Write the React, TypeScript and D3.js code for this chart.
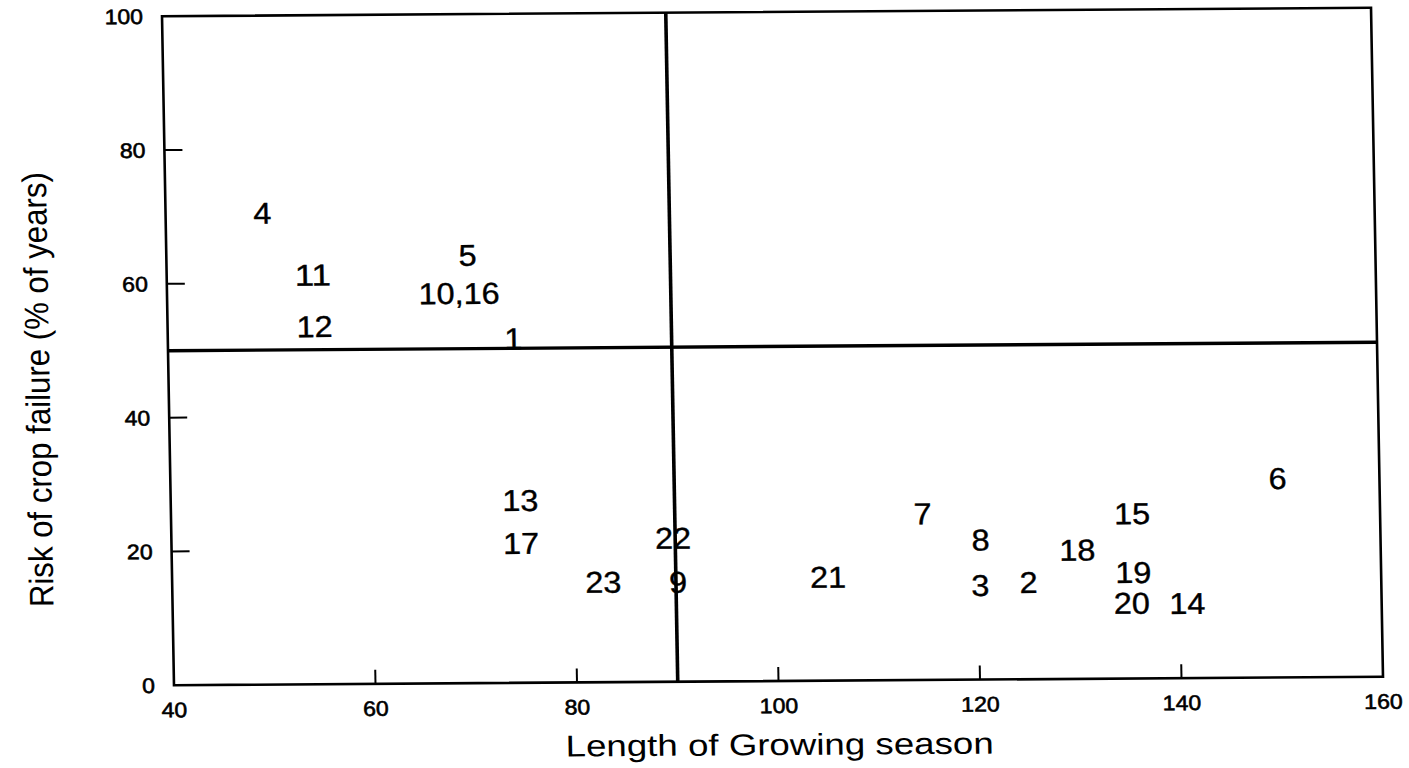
import * as d3 from 'd3';

// site numbers as printed on the chart, with season length (days) and risk (% of years)
const siteLabels = ['4', '11', '12', '5', '10,16', '1', '13', '17', '22', '23', '9', '21', '7', '8', '3', '2', '6', '15', '18', '19', '20', '14'];
const seasonLength = [49.6, 54.5, 54.6, 69.9, 69.0, 74.3, 74.7, 74.7, 89.8, 82.8, 90.2, 105.1, 114.6, 120.3, 120.2, 125.0, 149.9, 135.4, 129.9, 135.4, 135.2, 140.7];
const failureRisk = [70.5, 61.2, 53.5, 64.0, 58.3, 51.5, 27.3, 20.9, 21.5, 15.0, 14.9, 15.5, 24.9, 20.9, 14.1, 14.5, 29.8, 24.7, 19.3, 15.9, 11.3, 11.2];

const xTickValues = [40, 60, 80, 100, 120, 140, 160];
const yTickValues = [0, 20, 40, 60, 80, 100];

const seasonSplit = 90;
const riskSplit = 50;

const xLabel = 'Length of Growing season';
const yLabel = 'Risk of crop failure (% of years)';

const width = 1409;
const height = 768;
const margin = { top: 12, right: 32, bottom: 87, left: 168 };
const font = '"Liberation Sans", Arial, Helvetica, sans-serif';

// the scanned glyphs are a bit wider than the font's own
const labelLength = (s: string) => s.replace(/,/g, '').length * 18 + (s.match(/,/g) || []).length * 9;

export default function App() {
  const x = d3.scaleLinear().domain([40, 160]).range([margin.left, width - margin.right]);
  const y = d3.scaleLinear().domain([0, 100]).range([height - margin.bottom, margin.top]);

  const x0 = x(40);
  const x1 = x(160);
  const y0 = y(0);
  const y1 = y(100);

  const points = siteLabels.map((label, i) => ({
    label,
    cx: x(seasonLength[i]),
    cy: y(failureRisk[i]),
  }));

  return (
    <svg
      width={width}
      height={height}
      viewBox={`0 0 ${width} ${height}`}
      style={{ position: 'absolute', left: 0, top: 0, background: '#fff' }}
    >
      {/* the source is a slightly tilted scan */}
      <g transform="matrix(1,-0.00703,0.0179,1,-6.2,5.43)" fontFamily={font} fill="#000">
        {/* frame */}
        <rect x={x0} y={y1} width={x1 - x0} height={y0 - y1} fill="none" stroke="#000" strokeWidth={2.6} />

        {/* inside ticks */}
        {yTickValues.filter(t => t > 0 && t < 100).map(t => (
          <line key={`yt-${t}`} x1={x0} x2={x0 + 18} y1={y(t)} y2={y(t)} stroke="#000" strokeWidth={2} />
        ))}
        {xTickValues.filter(t => t > 40 && t < 160).map(t => (
          <line key={`xt-${t}`} x1={x(t)} x2={x(t)} y1={y0} y2={y0 - 14} stroke="#000" strokeWidth={2} />
        ))}

        {/* quadrant dividers */}
        <line x1={x0} x2={x1} y1={y(riskSplit)} y2={y(riskSplit)} stroke="#000" strokeWidth={3.4} />
        <line x1={x(seasonSplit)} x2={x(seasonSplit)} y1={y1} y2={y0} stroke="#000" strokeWidth={3.6} />

        {/* tick labels */}
        <g fontSize={21} stroke="#000" strokeWidth={0.6}>
          {yTickValues.map(t => (
            <text
              key={`yl-${t}`}
              x={x0 - 19}
              y={y(t)}
              dy="0.36em"
              textAnchor="end"
              textLength={String(t).length * 12.8}
              lengthAdjust="spacingAndGlyphs"
            >
              {t}
            </text>
          ))}
          {xTickValues.map(t => (
            <text
              key={`xl-${t}`}
              x={x(t)}
              y={y0 + 32}
              textAnchor="middle"
              textLength={String(t).length * 12.8}
              lengthAdjust="spacingAndGlyphs"
            >
              {t}
            </text>
          ))}
        </g>

        {/* site numbers */}
        <g fontSize={30} stroke="#000" strokeWidth={0.4}>
          {points.map((p, i) => (
            <text
              key={`pt-${i}`}
              x={p.cx}
              y={p.cy}
              dy="0.36em"
              textAnchor="middle"
              textLength={labelLength(p.label)}
              lengthAdjust="spacingAndGlyphs"
            >
              {p.label}
            </text>
          ))}
        </g>

        {/* axis titles */}
        <text
          x={(x0 + x1) / 2}
          y={y0 + 74}
          textAnchor="middle"
          fontSize={30}
          textLength={428}
          lengthAdjust="spacingAndGlyphs"
        >
          {xLabel}
        </text>
        <text
          transform={`translate(49,${(y0 + y1) / 2 + 38}) rotate(-90)`}
          textAnchor="middle"
          fontSize={34}
          textLength={435}
          lengthAdjust="spacingAndGlyphs"
        >
          {yLabel}
        </text>
      </g>
    </svg>
  );
}
